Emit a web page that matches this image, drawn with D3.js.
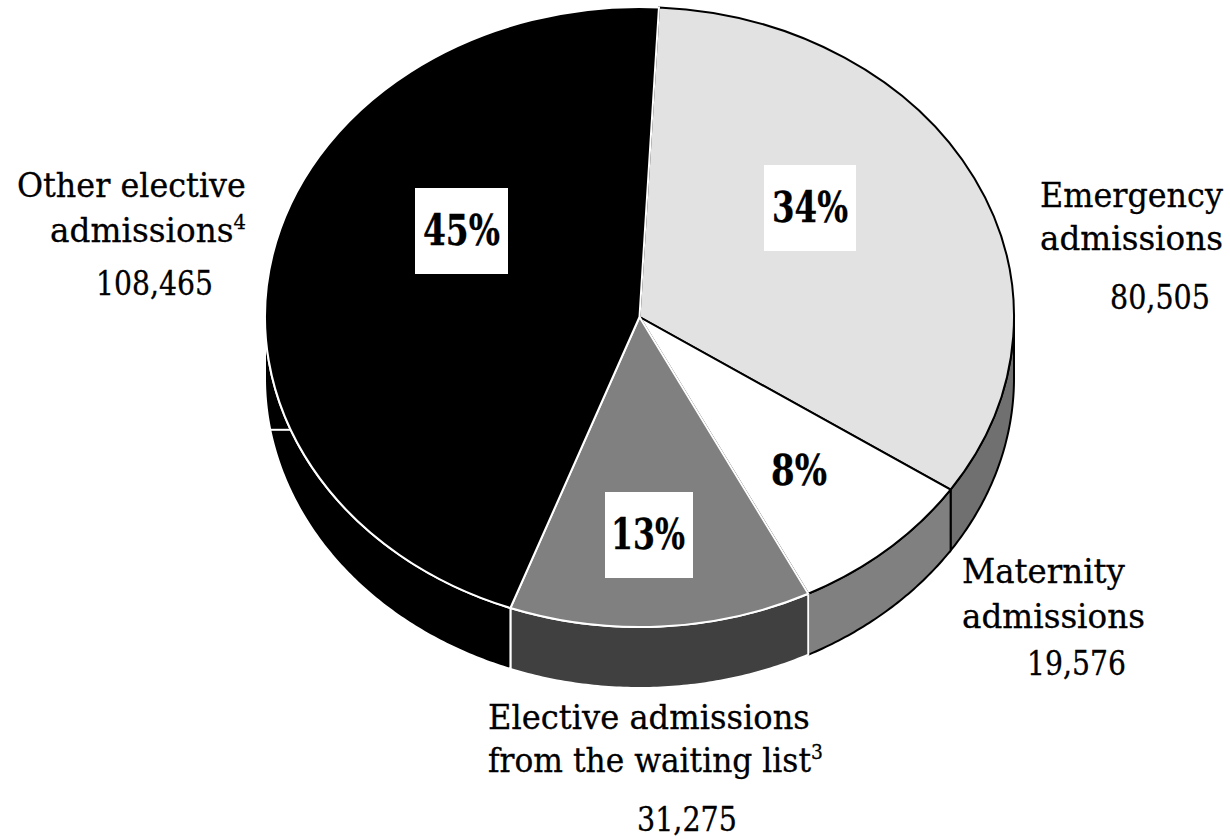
<!DOCTYPE html>
<html>
<head>
<meta charset="utf-8">
<script src="https://cdn.jsdelivr.net/npm/d3@7"></script>
<style>
  html, body { margin: 0; background: #fff; }
  svg { display: block; }
  text { font-family: "DejaVu Serif", serif; fill: #000; stroke: #000; stroke-width: 0.3px; }
</style>
</head>
<body>
<svg width="1230" height="839"></svg>
<script>
//Data
const categories = ['Emergency admissions', 'Maternity admissions', 'Elective admissions from the waiting list', 'Other elective admissions'];
const admissions = [80505, 19576, 31275, 108465];
const percentLabels = ['34%', '8%', '13%', '45%'];
const countLabels = ['80,505', '19,576', '31,275', '108,465'];

//Colours, same order as categories
const topColours = ['#e2e2e2', '#ffffff', '#808080', '#000000'];
const wallColours = ['#707070', '#808080', '#404040', '#000000'];
const lineColours = ['#000000', '#000000', '#ffffff', '#ffffff'];

const svg = d3.select('svg');

//Pie geometry
const cx = 639.5, cy = 317, rx = 374.5, ry = 310, depth = 61;
const startAngle = 0.052;

const pie = d3.pie().sort(null).value(d => d.value)
    .startAngle(startAngle).endAngle(startAngle + 2 * Math.PI);
const slices = pie(admissions.map((value, i) => ({value, i})));

const ex = a => cx + rx * Math.sin(a);
const ey = a => cy - ry * Math.cos(a);

//Side walls, only the front half of the pie can be seen
const wallArea = d3.area().x(ex).y0(ey).y1(a => ey(a) + depth);
const wall = svg.append('g');
slices.forEach(s => {
    const from = Math.max(s.startAngle, Math.PI / 2);
    const to = Math.min(s.endAngle, 3 * Math.PI / 2);
    if (to <= from) return;
    const steps = d3.range(from, to, 0.01).concat([to]);
    wall.append('path')
        .attr('d', wallArea(steps))
        .attr('fill', wallColours[s.data.i])
        .attr('stroke', lineColours[s.data.i])
        .attr('stroke-width', 2);
});

//Small seam on the left of the black wall
const seamAngle = 4.34;
wall.append('line')
    .attr('x1', ex(seamAngle)).attr('y1', ey(seamAngle))
    .attr('x2', ex(seamAngle) - 20).attr('y2', ey(seamAngle))
    .attr('stroke', '#fff').attr('stroke-width', 2);

//Top of the pie is a circle squeezed into an ellipse
const arc = d3.arc().innerRadius(0).outerRadius(ry);
svg.append('g')
    .attr('transform', `translate(${cx},${cy}) scale(${rx / ry},1)`)
  .selectAll('path')
  .data(slices)
  .join('path')
    .attr('d', arc)
    .attr('fill', d => topColours[d.data.i])
    .attr('stroke', d => lineColours[d.data.i])
    .attr('stroke-width', 2)
    .attr('vector-effect', 'non-scaling-stroke');

//Squeeze a text to the width measured on the picture
const fitText = (t, x, y, w) => {
    const len = t.node().getComputedTextLength();
    t.attr('transform', `translate(${x},${y}) scale(${w / len},1)`);
};

//Percent labels, the white slice needs no box
const percentBoxes = [
    {x: 764, y: 165, w: 92, h: 86, tx: 772, ty: 222, tw: 76},
    {x: 0, y: 0, w: 0, h: 0, tx: 771, ty: 485, tw: 56},
    {x: 605, y: 492, w: 88, h: 86, tx: 611, ty: 549, tw: 74},
    {x: 415, y: 188, w: 93, h: 86, tx: 423, ty: 245, tw: 77}
];
percentLabels.forEach((label, i) => {
    const b = percentBoxes[i];
    if (b.w) svg.append('rect').attr('x', b.x).attr('y', b.y).attr('width', b.w).attr('height', b.h).attr('fill', '#fff');
    const t = svg.append('text')
        .attr('font-size', 42).attr('font-weight', 'bold')
        .text(label);
    fitText(t, b.tx, b.ty, b.tw);
});

//Outside labels, width is the measured width of each line
const labelLines = [
    {text: 'Emergency', x: 1040, y: 207, w: 183},
    {text: 'admissions', x: 1040, y: 250, w: 183},
    {text: countLabels[0], x: 1110, y: 309, w: 100},
    {text: 'Maternity', x: 962, y: 583, w: 163},
    {text: 'admissions', x: 962, y: 628, w: 183},
    {text: countLabels[1], x: 1027, y: 675, w: 99},
    {text: 'Elective admissions', x: 488, y: 729, w: 322},
    {text: 'from the waiting list', sup: '3', x: 488, y: 772, w: 335},
    {text: countLabels[2], x: 637, y: 831, w: 100},
    {text: 'Other elective', x: 17, y: 197, w: 229},
    {text: 'admissions', sup: '4', x: 50, y: 242, w: 196},
    {text: countLabels[3], x: 96, y: 295, w: 117}
];
labelLines.forEach(l => {
    const t = svg.append('text')
        .attr('font-size', 33.5)
        .text(l.text);
    if (l.sup) t.append('tspan').attr('dy', -13).attr('font-size', 20).text(l.sup);
    fitText(t, l.x, l.y, l.w);
});
</script>
</body>
</html>
